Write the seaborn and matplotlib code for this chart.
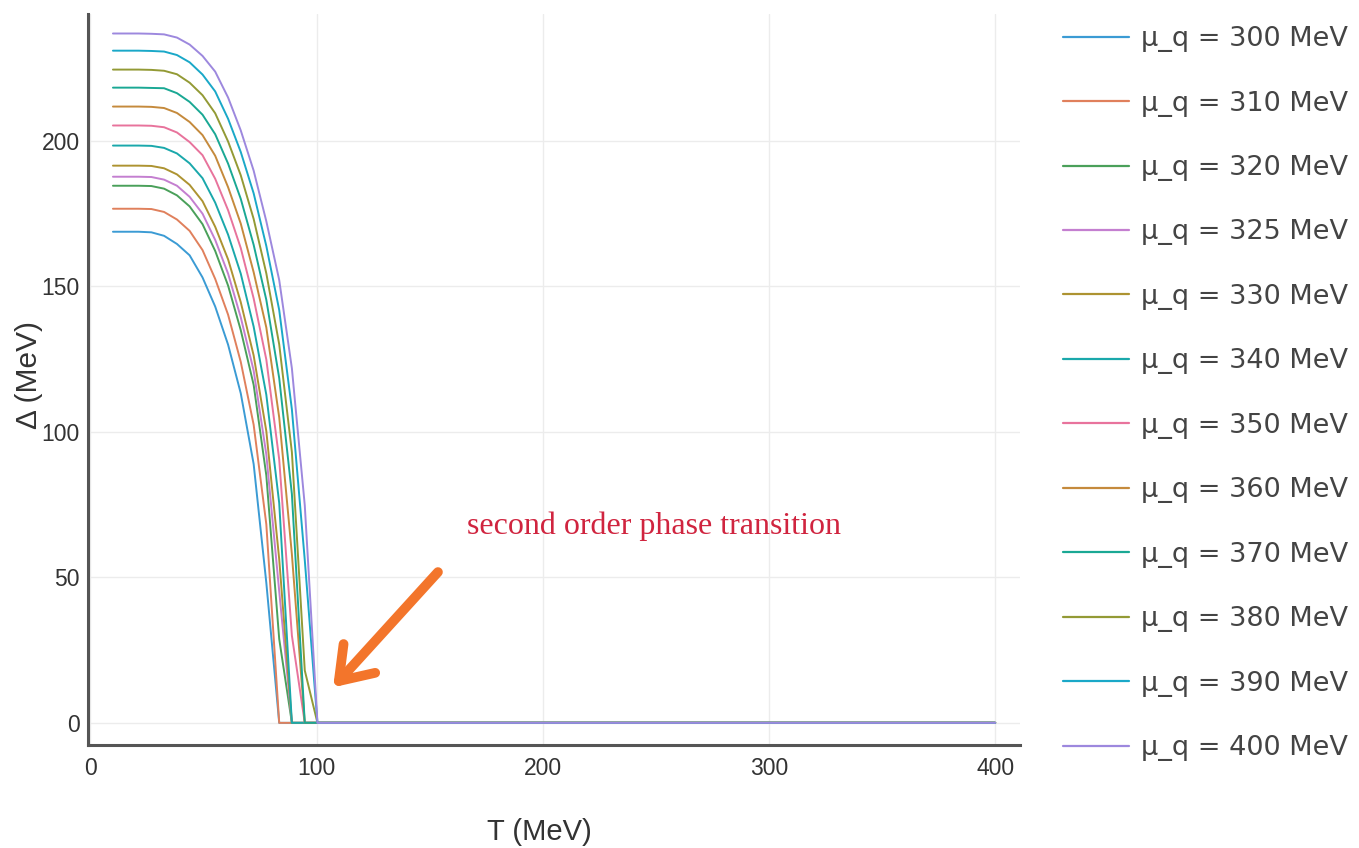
import matplotlib
matplotlib.use("Agg")
import matplotlib.pyplot as plt
import seaborn as sns
import pandas as pd

# ---------------- data ----------------
T_MeV = [10, 15.7, 21.3, 27.0, 32.6, 38.3, 43.9, 49.6, 55.2, 60.9, 66.5, 72.2,
         77.8, 83.5, 89.1, 94.8, 100.4, 400]

delta_300 = [168.7, 168.7, 168.7, 168.5, 167.3, 164.5, 160.6, 153.0, 143.0, 129.9, 113.2, 88.9, 48.1, 0, 0, 0, 0, 0]
delta_310 = [176.6, 176.6, 176.6, 176.5, 175.5, 172.9, 169.0, 162.4, 152.5, 140.2, 124.0, 102.4, 68.2, 0, 0, 0, 0, 0]
delta_320 = [184.5, 184.5, 184.5, 184.4, 183.5, 181.2, 177.4, 171.3, 162.1, 150.2, 134.9, 116.1, 85.0, 28.8, 0, 0, 0, 0]
delta_325 = [187.6, 187.6, 187.6, 187.5, 186.6, 184.5, 180.7, 174.9, 165.9, 154.3, 139.3, 121.0, 92.2, 45.2, 0, 0, 0, 0]
delta_330 = [191.4, 191.4, 191.4, 191.3, 190.5, 188.4, 184.8, 179.2, 170.4, 159.2, 144.5, 126.2, 100.2, 56.2, 0, 0, 0, 0]
delta_340 = [198.3, 198.3, 198.3, 198.2, 197.5, 195.6, 192.2, 187.1, 178.7, 167.7, 154.3, 136.1, 112.7, 75.5, 0, 0, 0, 0]
delta_350 = [205.2, 205.2, 205.2, 205.1, 204.6, 202.8, 199.5, 195.0, 186.9, 176.1, 163.1, 145.8, 124.8, 90.5, 30.0, 0, 0, 0]
delta_360 = [211.7, 211.7, 211.7, 211.6, 211.2, 209.5, 206.4, 201.9, 194.8, 184.0, 171.5, 154.8, 135.8, 104.9, 57.9, 0, 0, 0]
delta_370 = [218.2, 218.2, 218.2, 218.1, 218.0, 216.3, 213.3, 208.9, 202.2, 192.1, 180.0, 164.2, 145.3, 118.4, 78.6, 0, 0, 0]
delta_380 = [224.4, 224.4, 224.4, 224.3, 224.0, 222.8, 219.9, 215.6, 209.4, 199.7, 188.1, 173.1, 154.4, 130.0, 93.0, 18.0, 0, 0]
delta_390 = [230.9, 230.9, 230.9, 230.8, 230.6, 229.4, 226.9, 222.7, 216.9, 207.5, 196.1, 181.9, 163.8, 141.8, 107.7, 55.9, 0, 0]
delta_400 = [236.8, 236.8, 236.8, 236.7, 236.5, 235.4, 233.0, 229.1, 223.7, 214.8, 203.5, 189.7, 172.3, 152.1, 121.8, 74.7, 0, 0]

mu_labels = ["μ_q = 300 MeV", "μ_q = 310 MeV", "μ_q = 320 MeV", "μ_q = 325 MeV",
             "μ_q = 330 MeV", "μ_q = 340 MeV", "μ_q = 350 MeV", "μ_q = 360 MeV",
             "μ_q = 370 MeV", "μ_q = 380 MeV", "μ_q = 390 MeV", "μ_q = 400 MeV"]

series = [delta_300, delta_310, delta_320, delta_325, delta_330, delta_340,
          delta_350, delta_360, delta_370, delta_380, delta_390, delta_400]

x_ticks = [0, 100, 200, 300, 400]
y_ticks = [0, 50, 100, 150, 200]

colors = ["#3b9bd4", "#e0805c", "#4aa05a", "#c47fd0", "#ad9331", "#1aa8ab",
          "#e8739c", "#c58a3c", "#1aa894", "#939a35", "#1aa8c8", "#9d88de"]

# ---------------- build frame ----------------
rows = []
for lab, vals in zip(mu_labels, series):
    for t, d in zip(T_MeV, vals):
        rows.append({"T": t, "Delta": d, "mu": lab})
df = pd.DataFrame(rows)

sns.set_theme(style="white")
plt.rcParams["font.family"] = ["Liberation Sans", "DejaVu Sans"]

fig = plt.figure(figsize=(13.59, 8.48), dpi=100)
ax = fig.add_axes([0.0648, 0.1215, 0.6858, 0.862])

sns.lineplot(data=df, x="T", y="Delta", hue="mu", palette=colors, sort=False,
             estimator=None, linewidth=1.4, ax=ax)

ax.set_xlim(-1, 411)
ax.set_ylim(-7.6, 243.5)
ax.set_xticks(x_ticks)
ax.set_yticks(y_ticks)
ax.grid(True, color="#ececec", linewidth=1.0)
ax.set_axisbelow(True)

for s in ["top", "right"]:
    ax.spines[s].set_visible(False)
for s in ["left", "bottom"]:
    ax.spines[s].set_color("#555555")
    ax.spines[s].set_linewidth(2.2)

ax.tick_params(axis="both", direction="in", length=7, width=1.6, color="#444444",
               labelsize=16.5, labelcolor="#333333")
ax.tick_params(axis="x", pad=9)
ax.tick_params(axis="y", pad=6)
ax.set_xlabel("T (MeV)", fontsize=21, color="#333333")
ax.set_ylabel("Δ (MeV)", fontsize=21.5, color="#333333")
ax.xaxis.set_label_coords(0.484, -0.1)
ax.yaxis.set_label_coords(-0.048, 0.506)

# annotation
ax.text(166.5, 67.5, "second order phase transition", fontsize=23,
        color="#d0243f", family="Liberation Serif", va="center", ha="left")
ax.annotate("", xy=(106.5, 11.5), xytext=(154.5, 52.5),
            arrowprops=dict(arrowstyle="->,head_length=1.0,head_width=0.7",
                            color="#f3752b", lw=7, mutation_scale=22,
                            capstyle="round", joinstyle="round"))

# legend
sns.move_legend(ax, "upper left", bbox_to_anchor=(0.774, 0.982),
                bbox_transform=fig.transFigure, frameon=False, title=None,
                fontsize=19.5, labelspacing=1.42, handlelength=2.44,
                handletextpad=0.44, borderaxespad=0)
leg = ax.get_legend()
for txt in leg.get_texts():
    txt.set_color("#444444")
    txt.set_family("DejaVu Sans")
for ln in leg.get_lines():
    ln.set_linewidth(1.6)

fig.savefig("out.png", dpi=100, facecolor="white")
